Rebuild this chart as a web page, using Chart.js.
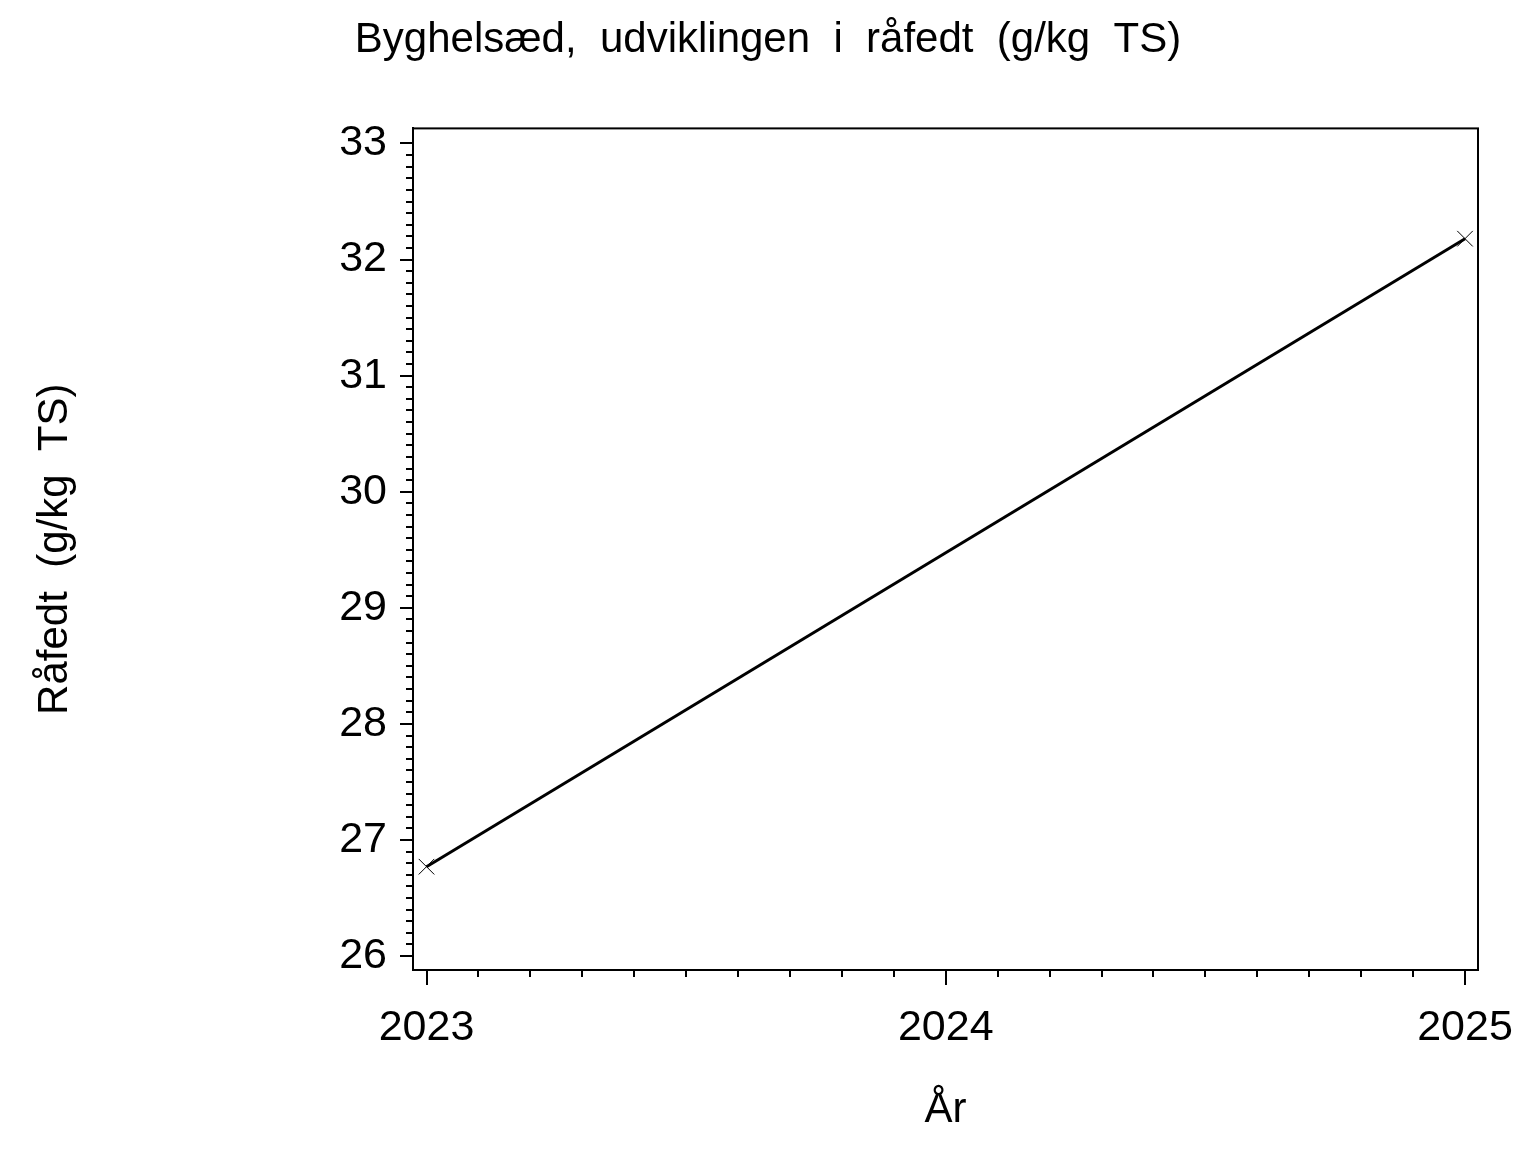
<!DOCTYPE html>
<html>
<head>
<meta charset="utf-8">
<script src="https://cdn.jsdelivr.net/npm/chart.js@4"></script>
<style>
  body { margin: 0; background: #fff; }
</style>
</head>
<body>
<canvas id="chart" width="1536" height="1152"></canvas>
<script>
var years = [2023, 2025];
var rafedt = [26.77, 32.18];
var xTicks = [2023, 2024, 2025];
var yTicks = [26, 27, 28, 29, 30, 31, 32, 33];

var fontFamily = "'Liberation Sans', Arial, sans-serif";

// small ticks + frame, drawn through the scales
var minorTicks = {
  id: "minorTicks",
  afterDraw: function (chart) {
    var ctx = chart.ctx;
    var area = chart.chartArea;
    var xs = chart.scales.x;
    var ys = chart.scales.y;
    ctx.save();
    ctx.strokeStyle = "#000";
    ctx.lineWidth = 2;
    ctx.beginPath();
    for (var i = 260; i <= 330; i++) {
      if (i % 10 === 0) continue;
      var py = Math.round(ys.getPixelForValue(i / 10));
      ctx.moveTo(area.left - 7, py);
      ctx.lineTo(area.left, py);
    }
    for (var j = 20230; j <= 20250; j++) {
      if (j % 10 === 0) continue;
      var px = Math.round(xs.getPixelForValue(j / 10));
      ctx.moveTo(px, area.bottom);
      ctx.lineTo(px, area.bottom + 7);
    }
    ctx.stroke();
    ctx.strokeRect(area.left, area.top, area.right - area.left, area.bottom - area.top);
    ctx.restore();
  },
};

var data = {
  datasets: [
    {
      label: "Råfedt",
      data: years.map(function (y, i) {
        return { x: y, y: rafedt[i] };
      }),
      borderColor: "#000",
      borderWidth: 3,
      pointStyle: "crossRot",
      pointRadius: 11,
      pointBorderWidth: 1,
      pointBorderColor: "#000",
      pointBackgroundColor: "#000",
      fill: false,
      tension: 0,
    },
  ],
};

const config = {
  type: "line",
  data: data,
  options: {
    responsive: false,
    animation: false,
    layout: { padding: 0 },
    plugins: {
      legend: { display: false },
      tooltip: { enabled: false },
      title: {
        display: true,
        text: "Byghelsæd,  udviklingen  i  råfedt  (g/kg  TS)",
        color: "#000",
        font: { family: fontFamily, size: 42, weight: "normal" },
        padding: { top: 15, bottom: 63 },
      },
    },
    scales: {
      x: {
        type: "linear",
        min: 2022.974,
        max: 2025.025,
        afterFit: function (s) {
          s.height = 182;
        },
        afterBuildTicks: function (s) {
          s.ticks = xTicks.map(function (v) {
            return { value: v };
          });
        },
        ticks: {
          color: "#000",
          padding: 17,
          maxRotation: 0,
          font: { family: fontFamily, size: 43 },
          callback: function (v) {
            return String(v);
          },
        },
        grid: {
          drawOnChartArea: false,
          color: "#000",
          lineWidth: 2,
          tickLength: 15,
        },
        border: { display: true, color: "#000", width: 2 },
        title: {
          display: true,
          text: "År",
          color: "#000",
          font: { family: fontFamily, size: 42 },
          padding: { top: 0, bottom: 16 },
        },
      },
      y: {
        type: "linear",
        min: 25.88,
        max: 33.13,
        afterFit: function (s) {
          s.width = 413;
        },
        afterBuildTicks: function (s) {
          s.ticks = yTicks.map(function (v) {
            return { value: v };
          });
        },
        ticks: {
          color: "#000",
          padding: 13,
          font: { family: fontFamily, size: 43 },
          callback: function (v) {
            return String(v);
          },
        },
        grid: {
          drawOnChartArea: false,
          color: "#000",
          lineWidth: 2,
          tickLength: 13,
        },
        border: { display: true, color: "#000", width: 2 },
        title: {
          display: true,
          text: "Råfedt  (g/kg  TS)",
          color: "#000",
          font: { family: fontFamily, size: 42 },
          padding: { top: 30, bottom: 0 },
        },
      },
      // empty right-hand strip so the title stays centred on the page
      spacer: {
        type: "linear",
        position: "right",
        display: true,
        afterFit: function (s) {
          s.width = 58;
        },
        ticks: { display: false },
        grid: { display: false },
        border: { display: false },
      },
    },
  },
  plugins: [minorTicks],
};

var myChart = new Chart(document.getElementById("chart"), config);
</script>
</body>
</html>
